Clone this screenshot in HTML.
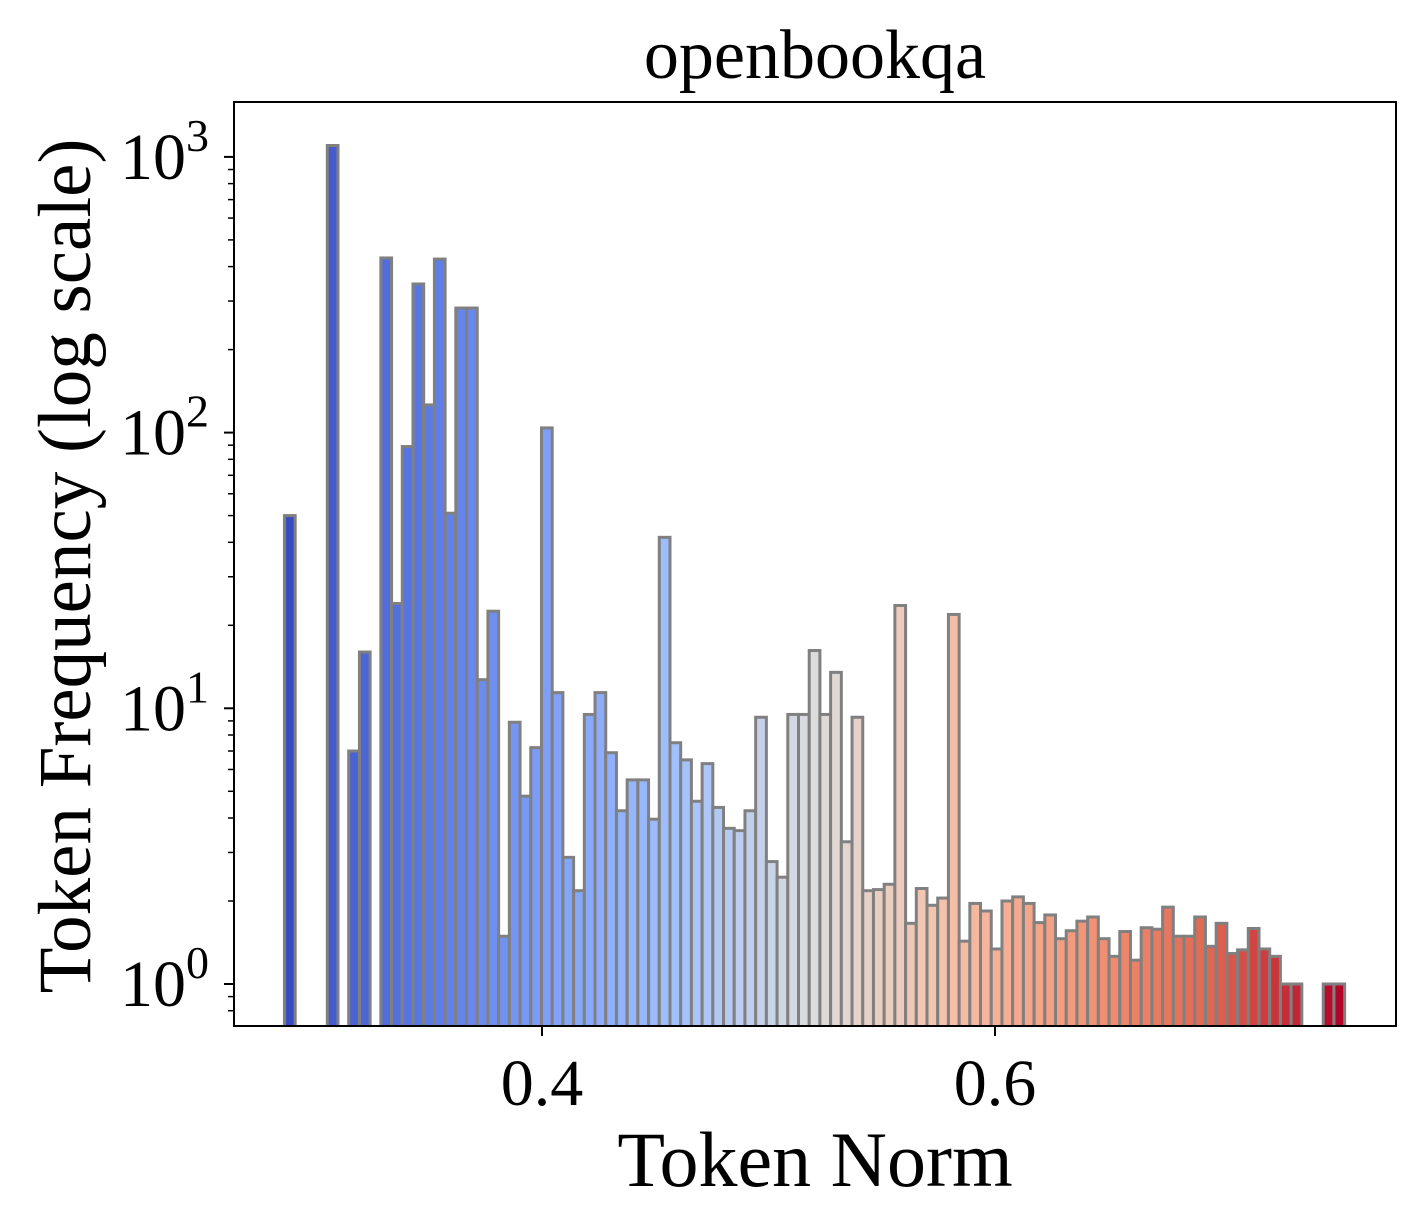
<!DOCTYPE html>
<html><head><meta charset="utf-8"><style>
html,body{margin:0;padding:0;background:#fff;}
svg{display:block;font-family:"Liberation Serif",serif;}
</style></head><body>
<svg id="chart" width="1426" height="1230" viewBox="0 0 1426 1230" xmlns="http://www.w3.org/2000/svg">
<rect x="0" y="0" width="1426" height="1230" fill="#fff"/>
<g id="bars"></g>
<g id="axes"></g>
<text x="815" y="78" font-size="70" text-anchor="middle">openbookqa</text>
<text x="815" y="1186" font-size="78" text-anchor="middle">Token Norm</text>
<text transform="translate(90,566) rotate(-90)" font-size="75" text-anchor="middle">Token Frequency (log scale)</text>
</svg>
<script>
const binStart = 0.2863;
const binWidth = 0.004728;
const counts = [50,0,0,0,1100,0,7,16,0,430,24,89,346,126,426,51,283,283,12.7,22.5,1.49,8.9,4.8,7.2,104,11.4,2.88,2.18,9.5,11.4,6.9,4.25,5.5,5.5,3.96,41.7,7.5,6.5,4.6,6.3,4.37,3.67,3.6,4.25,9.28,2.78,2.44,9.5,9.5,16.2,9.5,13.5,3.28,9.28,2.18,2.2,2.3,23.6,1.66,2.22,1.93,2.05,21.9,1.43,1.96,1.84,1.34,2.0,2.07,1.96,1.67,1.78,1.46,1.56,1.69,1.75,1.46,1.26,1.55,1.22,1.6,1.58,1.9,1.49,1.49,1.75,1.37,1.66,1.29,1.33,1.59,1.34,1.26,1,1,0,0,1,1];
const xTicks = [0.4, 0.6];
const xTickLabels = ["0.4", "0.6"];
const yTicks = [1, 10, 100, 1000];
const yTickExp = ["0", "1", "2", "3"];

const L=234,R=1396,T=102,B=1026;
function xs(v){return 542+(v-0.4)*2265;}
function ys(v){return 984-Math.log10(v)*275.7;}
const cmapStops=[[59,76,192],[90,120,228],[126,161,250],[163,194,254],[221,220,220],[245,193,169],[244,152,122],[225,104,82],[180,4,38]];
function cmap(t){const n=cmapStops.length-1;let p=t*n,i=Math.min(Math.floor(p),n-1),f=p-i;const a=cmapStops[i],b=cmapStops[i+1];return 'rgb('+a.map((c,k)=>Math.round(c+(b[k]-c)*f)).join(',')+')';}
const NS='http://www.w3.org/2000/svg';
const bars=document.getElementById('bars');
counts.forEach((c,i)=>{
  if(c<=0) return;
  const x0=xs(binStart+i*binWidth), x1=xs(binStart+(i+1)*binWidth);
  const r=document.createElementNS(NS,'rect');
  
  
  r.setAttribute('x',x0);r.setAttribute('width',x1-x0);
  const yt=ys(c);
  r.setAttribute('y',yt);r.setAttribute('height',B+5-yt);
  r.setAttribute('fill',cmap(i/(counts.length-1)));
  r.setAttribute('stroke','#808080');r.setAttribute('stroke-width','3');
  bars.appendChild(r);
});
const cover=document.createElementNS(NS,'rect');


cover.setAttribute('x',0);cover.setAttribute('y',B);cover.setAttribute('width',1426);cover.setAttribute('height',20);cover.setAttribute('fill','#fff');
bars.appendChild(cover);
const ax=document.getElementById('axes');
function line(x1,y1,x2,y2,w,name){const l=document.createElementNS(NS,'line');


l.setAttribute('x1',x1);l.setAttribute('y1',y1);l.setAttribute('x2',x2);l.setAttribute('y2',y2);l.setAttribute('stroke','#000');l.setAttribute('stroke-width',w);ax.appendChild(l);}
const frame=document.createElementNS(NS,'rect');


frame.setAttribute('x',L);frame.setAttribute('y',T);frame.setAttribute('width',R-L);frame.setAttribute('height',B-T);frame.setAttribute('fill','none');frame.setAttribute('stroke','#000');frame.setAttribute('stroke-width','2');
ax.appendChild(frame);
xTicks.forEach((v,i)=>{const x=xs(v);line(x,B,x,B+10,2,'x-tick');
const t=document.createElementNS(NS,'text');


t.setAttribute('x',x);t.setAttribute('y',B+79);t.setAttribute('font-size','66');t.setAttribute('text-anchor','middle');t.textContent=xTickLabels[i];ax.appendChild(t);});
yTicks.forEach((v,i)=>{const y=ys(v);line(L-10,y,L,y,2,'y-tick');
const t=document.createElementNS(NS,'text');


t.setAttribute('x',L-48);t.setAttribute('y',y+22);t.setAttribute('font-size','66');t.setAttribute('text-anchor','end');t.textContent='10';
ax.appendChild(t);
const s=document.createElementNS(NS,'text');


s.setAttribute('x',L-48);s.setAttribute('y',y-6);s.setAttribute('font-size','46');s.setAttribute('text-anchor','start');s.textContent=yTickExp[i];
ax.appendChild(s);
for(let m=2;m<=9;m++){const mv=v*m,my=ys(mv);if(my>=T&&my<=B)line(L-6,my,L,my,1.5,'y-minor-tick');}
});
const sub=ys(0.9);if(sub<=B)line(L-6,sub,L,sub,1.5,'y-minor-tick');
const sub2=ys(0.8);if(sub2<=B)line(L-6,sub2,L,sub2,1.5,'y-minor-tick');
</script>
</body></html>
